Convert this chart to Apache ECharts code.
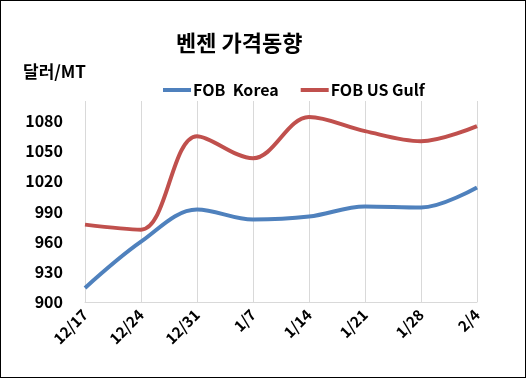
<!DOCTYPE html>
<html>
<head>
	<meta charset="utf-8">
	<title>벤젠 가격동향</title>
	<script src="https://cdn.jsdelivr.net/npm/echarts@6/dist/echarts.min.js"></script>
	<style>
		html,body{margin:0;padding:0;background:#fff;}
		#chart{width:524px;height:376px;border:1px solid #000;}
	</style>
</head>
<body>
	<div id="chart"></div>
<script type="text/javascript">
	var dates=['12/17','12/24','12/31','1/7','1/14','1/21','1/28','2/4'];
	var korea=[914,960,992,982,985,995,994,1014];
	var usGulf=[977,972,1065,1043,1084,1070,1060,1075];

	var font='"Noto Sans CJK KR", sans-serif';
	var myChart=echarts.init(document.getElementById('chart'));
	var option={
		animation:false,
		title:[{
			text:'벤젠 가격동향',
			left:170,
			top:26,
			textStyle:{fontFamily:font,fontSize:22,fontWeight:'bold',color:'#000'}
		},{
			text:'달러/MT',
			left:17,
			top:57,
			textStyle:{fontFamily:font,fontSize:17,fontWeight:'bold',color:'#000'}
		}],
		legend:{
			top:76,
			left:157,
			itemWidth:28,
			itemHeight:4,
			itemGap:22,
			icon:'rect',
			textStyle:{fontFamily:font,fontSize:16,fontWeight:'bold',color:'#000',padding:[0,0,0,-3]},
			data:['FOB  Korea','FOB US Gulf']
		},
		grid:{left:84,right:48,top:100,bottom:75},
		xAxis:{
			type:'category',
			boundaryGap:false,
			data:dates,
			axisLine:{lineStyle:{color:'#d9d9d9'}},
			axisTick:{show:false},
			splitLine:{show:true,lineStyle:{color:'#d9d9d9'}},
			axisLabel:{rotate:45,fontFamily:font,fontSize:15,fontWeight:'bold',color:'#000',margin:10}
		},
		yAxis:{
			type:'value',
			min:900,
			max:1100,
			interval:30,
			axisLine:{show:false},
			axisTick:{show:false},
			splitLine:{show:false},
			axisLabel:{fontFamily:font,fontSize:16,fontWeight:'bold',color:'#000',margin:22,showMaxLabel:false,
				formatter:function(v){return String(v);}}
		},
		series:[{
			name:'FOB  Korea',
			type:'line',
			smooth:0.35,
			symbol:'none',
			data:korea,
			itemStyle:{color:'#4F81BD'},
			lineStyle:{color:'#4F81BD',width:4}
		},{
			name:'FOB US Gulf',
			type:'line',
			smooth:0.35,
			symbol:'none',
			data:usGulf,
			itemStyle:{color:'#C0504D'},
			lineStyle:{color:'#C0504D',width:4}
		}]
	};
	myChart.setOption(option);
	window.addEventListener('resize',()=>{
		myChart.resize();
	});
</script>
</body>
</html>
